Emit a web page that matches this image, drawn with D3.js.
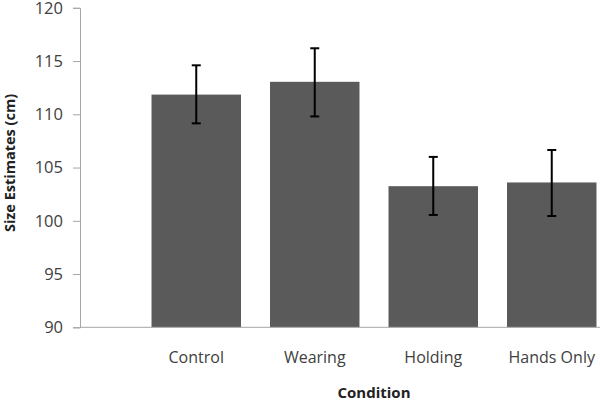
<!DOCTYPE html>
<html>
<head>
<meta charset="utf-8">
<script src="https://cdn.jsdelivr.net/npm/d3@7"></script>
<style>
  body { margin: 0; background: #fff; }
  text { font-family: "Open Sans", "Noto Sans", sans-serif; }
</style>
</head>
<body>
<div id="chart"></div>
<script>
var conditions = ["Control", "Wearing", "Holding", "Hands Only"]
var means = [111.85, 113.05, 103.25, 103.6]
var errLow = [109.15, 109.8, 100.55, 100.45]
var errHigh = [114.6, 116.2, 106.0, 106.65]
var yTicks = [90, 95, 100, 105, 110, 115, 120]

function draw_bar_chart(config) {
    var width = config.width || 600
    var height = config.height || 401
    var placeholder = config.placeholder

    var svg = d3.select(placeholder).append("svg")
        .attr("width", width)
        .attr("height", height)

    var axisLeft = 80
    var y = d3.scaleLinear().domain([90, 120]).range([327.3, 7.8])

    // plot area runs past the right edge in the source picture
    var x = d3.scaleBand()
        .domain(conditions)
        .range([137, 611])
        .paddingInner(0.245)
        .paddingOuter(0.1225)

    var data = conditions.map(function (c, i) {
        return { name: c, mean: means[i], lo: errLow[i], hi: errHigh[i] }
    })

    svg.selectAll("rect.bar")
        .data(data)
        .enter().append("rect")
        .attr("class", "bar")
        .attr("x", function (d) { return x(d.name) })
        .attr("width", x.bandwidth())
        .attr("y", function (d) { return y(d.mean) })
        .attr("height", function (d) { return y(90) - y(d.mean) })
        .style("fill", "#5a5a5a")

    // y axis
    var yAxis = svg.append("g")
        .attr("transform", "translate(" + axisLeft + ",0)")
        .call(d3.axisLeft(y).tickValues(yTicks).tickSize(7).tickPadding(10))
    yAxis.select(".domain").attr("stroke", "#a6a6a6")
    yAxis.selectAll(".tick line").attr("stroke", "#a6a6a6")
    yAxis.selectAll(".tick text")
        .style("font-size", "16.5px")
        .attr("fill", "#404040")

    // x axis line + labels
    svg.append("line")
        .attr("x1", axisLeft).attr("x2", width)
        .attr("y1", y(90)).attr("y2", y(90))
        .attr("stroke", "#a6a6a6")

    svg.selectAll("text.xlab")
        .data(conditions)
        .enter().append("text")
        .attr("class", "xlab")
        .attr("x", function (d) { return x(d) + x.bandwidth() / 2 })
        .attr("y", 363)
        .attr("text-anchor", "middle")
        .attr("fill", "#404040")
        .style("font-size", "16px")
        .text(function (d) { return d })

    // error bars
    var eb = svg.selectAll("g.err")
        .data(data)
        .enter().append("g")
        .attr("class", "err")
        .attr("stroke", "#000")
        .attr("stroke-width", 2)
    eb.append("line")
        .attr("x1", function (d) { return x(d.name) + x.bandwidth() / 2 })
        .attr("x2", function (d) { return x(d.name) + x.bandwidth() / 2 })
        .attr("y1", function (d) { return y(d.lo) })
        .attr("y2", function (d) { return y(d.hi) })
    ;["lo", "hi"].forEach(function (k) {
        eb.append("line")
            .attr("x1", function (d) { return x(d.name) + x.bandwidth() / 2 - 4.5 })
            .attr("x2", function (d) { return x(d.name) + x.bandwidth() / 2 + 4.5 })
            .attr("y1", function (d) { return y(d[k]) })
            .attr("y2", function (d) { return y(d[k]) })
    })

    // titles
    svg.append("text")
        .attr("x", 374)
        .attr("y", 398)
        .attr("text-anchor", "middle")
        .style("font-size", "15px")
        .style("font-weight", "bold")
        .attr("fill", "#222")
        .text("Condition")

    svg.append("text")
        .attr("transform", "translate(15,163) rotate(-90)")
        .attr("text-anchor", "middle")
        .style("font-size", "14.5px")
        .style("font-weight", "bold")
        .attr("fill", "#222")
        .text("Size Estimates (cm)")
}

var config = {}
config.placeholder = "#chart"
draw_bar_chart(config)
</script>
</body>
</html>
